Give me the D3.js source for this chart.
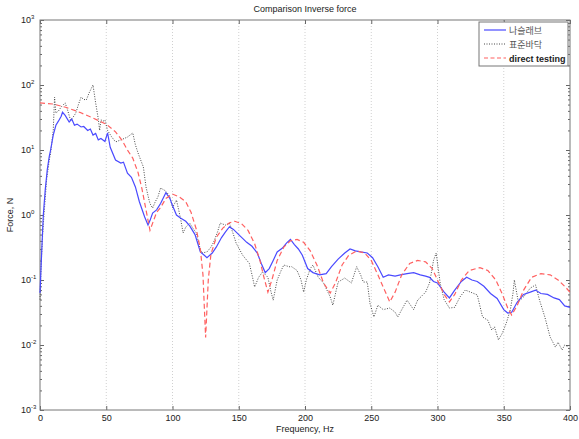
<!DOCTYPE html>
<html>
<head>
<meta charset="utf-8">
<script src="https://cdn.jsdelivr.net/npm/d3@7"></script>
<style>
	body { margin: 0; background: #fff; }
	text { font-family: Arial, "Liberation Sans", sans-serif; fill: #222; }
</style>
</head>
<body>
<div id="chart"></div>
<script>
// frequency (Hz) and force (N)
const redFreq = [0,10,20,30,40,50,57,62,66,70,74,77,80,83,85,88,91,95,100,105,110,114,118,121,123,125,127,129,133,138,143,147,152,157,162,166,169,172,175,179,184,189,194,199,204,209,214,219,223,228,233,239,245,250,255,260,264,268,273,279,285,291,296,301,305,309,313,318,324,332,338,344,349,353,356,360,365,371,378,385,391,396,400];
const redForce = [53,51,45,38,31,25,19,14,10,7.5,4.5,2.5,1.2,0.58,0.75,1.1,1.3,1.8,2.1,1.9,1.6,1.1,0.6,0.3,0.12,0.013,0.1,0.25,0.45,0.63,0.76,0.8,0.74,0.58,0.36,0.2,0.11,0.065,0.1,0.2,0.32,0.4,0.42,0.38,0.28,0.17,0.09,0.063,0.09,0.17,0.24,0.28,0.26,0.2,0.12,0.07,0.046,0.065,0.12,0.18,0.2,0.19,0.15,0.09,0.06,0.046,0.06,0.1,0.14,0.155,0.14,0.1,0.06,0.037,0.029,0.04,0.07,0.11,0.125,0.12,0.1,0.08,0.065];

const blueFreq = [0,1,2,2.5,4,5.5,7,8,10,12,14,16,17,19,22,24,26,28,31,33,36,38,40,42,44,46,49,51,53,57,61,63,66,69,72,75,79,81.5,83,85,88,91,95,98,100,103,106,110,113,117,121,124,126,130,133,137,140,143,146,150,156,160,164,167,170,173,176,179,183,186,189,192,195,198,202,206,211,216,220,225,230,234,238,242,247,251,255,259,263,268,272,277,282,287,291,294,297,300,305,309,313,318,322,326,330,335,340,345,350,353,356,360,365,370,374,378,383,388,392,396,400];
const blueForce = [0.063,0.2,0.6,1.0,2.5,5,8,10,17,24,28,33,38,34,27,30,24,25,22.6,23,20,21,17,18,14.3,15,13.5,18.3,11,7,6.3,6.5,4.4,3.8,2.7,1.6,0.93,0.7,0.82,1.07,1.2,1.5,2.2,1.8,1.4,1.0,0.9,0.8,0.68,0.5,0.27,0.24,0.22,0.26,0.32,0.45,0.55,0.66,0.6,0.5,0.38,0.33,0.26,0.18,0.13,0.15,0.2,0.27,0.31,0.37,0.42,0.35,0.3,0.24,0.15,0.13,0.12,0.125,0.16,0.21,0.26,0.3,0.28,0.27,0.26,0.22,0.16,0.11,0.12,0.115,0.12,0.125,0.13,0.12,0.115,0.11,0.095,0.09,0.065,0.053,0.07,0.095,0.11,0.1,0.095,0.08,0.062,0.052,0.035,0.031,0.032,0.045,0.06,0.065,0.07,0.062,0.06,0.053,0.05,0.04,0.038];

const blackFreq = [0,1,2,3,5,7,8,10,11,12,14,16,19,21,23,25,27,29,31,33,35,37,40,42,44,45,46,48,49,51,54,57,61,66,68,70,72,74,76,78,80,82,83,85,87,89,91,94,96,98,100,103,106,108,110,113,116,118,120,122,126,129,131,134,136,140,143,146,148,153,158,160,162,165,168,172,174,176,179,182,184,188,190,194,197,199,201,204,206,210,214,219,221,225,230,235,239,242,244,247,249,252,255,259,264,268,270,274,277,282,285,291,294,297,299,302,305,309,313,317,321,325,330,334,338,341,343,346,349,352,355,357,358,361,365,370,374,377,381,385,389,391,394,396,399];
const blackForce = [0.05,0.2,0.5,1.0,3.5,7,9,20,65,37,40,46,53,40,29,32,37,50,65,60,59,75,100,53,30,20,29,28,29,20,16,13.3,14.3,15.8,17,18.3,12,9,7,5.5,2.7,1.8,1.5,1.28,1.6,1.9,2.6,2.4,2.2,1.9,1.3,1.7,0.9,0.53,0.65,0.75,0.6,0.53,0.35,0.26,0.27,0.32,0.38,0.55,0.75,0.7,0.75,0.5,0.37,0.24,0.18,0.12,0.078,0.11,0.133,0.11,0.07,0.049,0.1,0.14,0.17,0.16,0.16,0.14,0.1,0.065,0.1,0.15,0.17,0.11,0.09,0.055,0.041,0.093,0.107,0.09,0.16,0.12,0.093,0.093,0.044,0.027,0.041,0.035,0.037,0.032,0.027,0.038,0.049,0.035,0.049,0.065,0.09,0.2,0.26,0.09,0.05,0.037,0.038,0.055,0.07,0.065,0.059,0.027,0.024,0.017,0.019,0.012,0.0153,0.022,0.035,0.063,0.1,0.046,0.055,0.075,0.084,0.049,0.027,0.0133,0.0093,0.011,0.0084,0.01,0.0093];

const xTicks = [0,50,100,150,200,250,300,350,400];
const yExps = [-3,-2,-1,0,1,2,3];
const seriesNames = ['나슬래브','표준바닥','direct testing'];

const W = 579, H = 439;
const margin = {left: 40, right: 9, top: 20, bottom: 29};

const svg = d3.select('#chart').append('svg')
	.attr('width', W)
	.attr('height', H);

const x = d3.scaleLinear().domain([0, 400]).range([margin.left, W - margin.right]);
const y = d3.scaleLog().domain([1e-3, 1e3]).range([H - margin.bottom, margin.top]);

//vertical dotted grid
svg.append('g')
	.selectAll('line')
	.data(xTicks.slice(1, -1))
	.join('line')
	.attr('x1', d => x(d)).attr('x2', d => x(d))
	.attr('y1', y(1e3)).attr('y2', y(1e-3))
	.style('stroke', '#d0d0d0')
	.style('stroke-width', '1px')
	.style('stroke-dasharray', '1,2');

//axes with inward ticks
const xAxis = d3.axisBottom(x).tickValues(xTicks).tickSize(-4).tickPadding(5).tickFormat(d3.format('d'));
const xAxisTop = d3.axisTop(x).tickValues(xTicks).tickSize(-4).tickFormat('');
const minor = [];
for (let e = -3; e < 3; e += 1) {
	for (let k = 2; k <= 9; k += 1) minor.push(k * Math.pow(10, e));
}
const yMajor = yExps.map(e => Math.pow(10, e));

const gx = svg.append('g').attr('transform', `translate(0,${y(1e-3)})`).call(xAxis);
svg.append('g').attr('transform', `translate(0,${y(1e3)})`).call(xAxisTop);
gx.selectAll('text').style('font-size', '9px');

svg.append('g').attr('transform', `translate(${x(0)},0)`)
	.call(d3.axisLeft(y).tickValues(yMajor).tickSize(-4).tickFormat(''));
svg.append('g').attr('transform', `translate(${x(0)},0)`)
	.call(d3.axisLeft(y).tickValues(minor).tickSize(-2).tickFormat(''));
svg.append('g').attr('transform', `translate(${x(400)},0)`)
	.call(d3.axisRight(y).tickValues(yMajor).tickSize(-4).tickFormat(''));
svg.append('g').attr('transform', `translate(${x(400)},0)`)
	.call(d3.axisRight(y).tickValues(minor).tickSize(-2).tickFormat(''));

svg.selectAll('.domain').remove();
svg.selectAll('.tick line').style('stroke', '#666');

//frame
svg.append('rect')
	.attr('x', x(0)).attr('y', y(1e3))
	.attr('width', x(400) - x(0)).attr('height', y(1e-3) - y(1e3))
	.style('fill', 'none').style('stroke', '#777').style('stroke-width', '1px');

//y tick labels 10^n
const yLab = svg.append('g').selectAll('text')
	.data(yExps)
	.join('text')
	.attr('x', x(0) - 19)
	.attr('y', d => y(Math.pow(10, d)) + 3)
	.style('font-size', '9px');
yLab.append('tspan').text('10');
yLab.append('tspan').attr('dy', -4).style('font-size', '6px').text(d => d);

//series
const line = d3.line().x(d => x(d[0])).y(d => y(d[1]));

svg.append('path')
	.datum(blackFreq.map((f, i) => [f, blackForce[i]]))
	.attr('d', line)
	.style('fill', 'none').style('stroke', '#333').style('stroke-width', '0.9px')
	.style('stroke-dasharray', '1,1.5');

svg.append('path')
	.datum(blueFreq.map((f, i) => [f, blueForce[i]]))
	.attr('d', line)
	.style('fill', 'none').style('stroke', '#4a4aff').style('stroke-width', '1.2px');

svg.append('path')
	.datum(redFreq.map((f, i) => [f, redForce[i]]))
	.attr('d', line)
	.style('fill', 'none').style('stroke', '#ff6060').style('stroke-width', '1.2px')
	.style('stroke-dasharray', '5,3');

//titles
svg.append('text')
	.attr('x', (x(0) + x(400)) / 2).attr('y', 12)
	.attr('text-anchor', 'middle')
	.style('font-size', '9px')
	.text('Comparison Inverse force');

svg.append('text')
	.attr('x', (x(0) + x(400)) / 2).attr('y', 432)
	.attr('text-anchor', 'middle')
	.style('font-size', '9px')
	.text('Frequency, Hz');

svg.append('text')
	.attr('transform', `translate(13,${(y(1e3) + y(1e-3)) / 2}) rotate(-90)`)
	.attr('text-anchor', 'middle')
	.style('font-size', '9px')
	.text('Force, N');

//legend
const lg = svg.append('g').attr('transform', 'translate(479,22)');
lg.append('rect')
	.attr('width', 89).attr('height', 44)
	.style('fill', '#fff').style('stroke', '#777').style('stroke-width', '1px');

const legendStyles = [
	{color: '#4a4aff', dash: null, width: 1.2, weight: 'normal'},
	{color: '#333', dash: '1,1.5', width: 0.9, weight: 'normal'},
	{color: '#ff6060', dash: '4,2.5', width: 1.2, weight: 'bold'}
];
seriesNames.forEach((name, i) => {
	const s = legendStyles[i];
	const ly = 8 + i * 14;
	lg.append('line')
		.attr('x1', 5).attr('x2', 27).attr('y1', ly).attr('y2', ly)
		.style('stroke', s.color).style('stroke-width', s.width + 'px')
		.style('stroke-dasharray', s.dash);
	lg.append('text')
		.attr('x', 30).attr('y', ly + 3.5)
		.style('font-size', '9px')
		.style('font-weight', s.weight)
		.style('font-family', i < 2 ? '"Noto Sans CJK KR", sans-serif' : 'Arial, "Liberation Sans", sans-serif')
		.style('fill', i < 2 ? '#555' : '#222')
		.text(name);
});
</script>
</body>
</html>
